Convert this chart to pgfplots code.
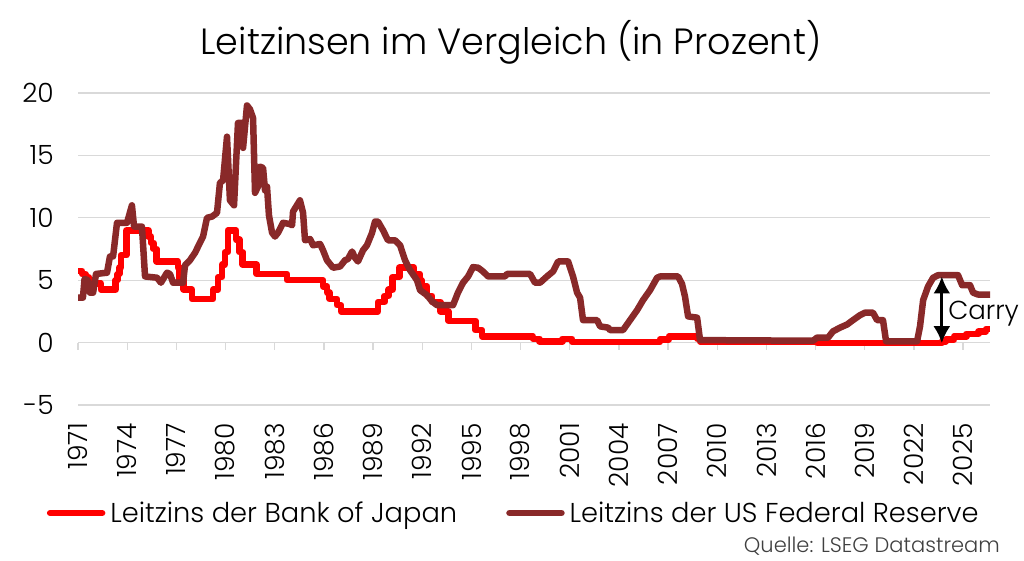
\documentclass[border=0pt]{standalone}
\usepackage{pgfplots}
\pgfplotsset{compat=1.18}
\usepackage{fontspec}
\setmainfont{Poppins Light}
\usetikzlibrary{arrows.meta}
\definecolor{bojred}{RGB}{255,0,0}
\definecolor{fedred}{RGB}{137,41,41}
\definecolor{gridgrey}{RGB}{217,217,217}
\definecolor{srcgrey}{RGB}{64,64,64}

\begin{document}
\begin{tikzpicture}
\useasboundingbox (0,0) rectangle (1024pt,560pt);
\begin{axis}[
  at={(78pt,155pt)}, anchor=south west,
  scale only axis, width=912pt, height=312pt,
  xmin=1971, xmax=2026.64, ymin=-5, ymax=20,
  xtick={1971,1974,...,2025},
  ytick={-5,0,5,10,15,20},
  axis line style={draw=none},
  major tick length=0pt,
  ymajorgrids, grid style={gridgrey, line width=1.3pt},
  /pgf/number format/assume math mode=true,
  /pgf/number format/1000 sep={},
  ticklabel style={font=\fontsize{26.5}{30}\selectfont, text=black},
  yticklabel style={anchor=east, inner sep=0pt},
  yticklabel shift=24pt,
  xticklabel style={rotate=90, anchor=east, inner sep=0pt},
  xticklabel shift=18pt,
  clip=false,
  legend columns=2,
  legend image code/.code={\draw[#1, line cap=round] (0pt,0pt) -- (52pt,0pt);},
  legend style={draw=none, fill=none, at={(axis description cs:-0.0341,-0.3462)}, anchor=west,
    inner sep=0pt, outer sep=0pt,
    nodes={inner sep=0pt, font=\fontsize{27.3}{32}\selectfont},
    /tikz/every odd column/.append style={column sep=5pt},
    /tikz/every even column/.append style={column sep=49pt}},
]
\pgfplotsinvokeforeach{1971,1974,...,2025}{\draw[gridgrey, line width=1.3pt] (axis cs:#1,0) -- ++(0pt,-7pt);}

% Bank of Japan
\addplot[const plot, bojred, line width=6.5pt, line join=round] coordinates {
(1971.00,5.75)(1971.25,5.5)(1971.45,5.25)(1971.65,4.75)(1972.40,4.25)(1973.30,5.0)(1973.42,5.5)
(1973.52,6.0)(1973.62,7.0)(1973.95,9.0)(1975.30,8.5)(1975.45,8.0)(1975.60,7.5)(1975.80,6.5)
(1977.10,6.0)(1977.20,5.0)(1977.45,4.25)(1977.95,3.5)(1979.25,4.25)(1979.55,5.25)(1979.80,6.25)
(1979.97,7.25)(1980.15,9.0)(1980.65,8.25)(1980.85,7.25)(1981.05,6.25)(1981.90,5.5)(1983.75,5.0)
(1985.95,4.5)(1986.20,4.0)(1986.35,3.5)(1986.80,3.0)(1987.05,2.5)(1989.30,3.25)(1989.70,3.75)
(1989.95,4.25)(1990.20,5.25)(1990.60,6.0)(1991.50,5.5)(1991.85,5.0)(1991.95,4.5)(1992.30,3.75)
(1992.60,3.25)(1993.10,2.5)(1993.60,1.75)(1995.25,1.0)(1995.65,0.5)(1998.75,0.3)(1999.15,0.1)
(2000.55,0.3)(2001.15,0.05)(2006.50,0.25)(2007.05,0.5)(2008.80,0.3)(2008.95,0.1)(2016.10,-0.05)
(2023.70,0.1)(2023.95,0.25)(2024.45,0.5)(2025.20,0.7)(2025.95,0.9)(2026.40,1.1)(2026.64,1.1)
};
\addlegendentry{Leitzins der Bank of Japan}

% US Federal Reserve
\addplot[sharp plot, fedred, line width=6.5pt, line join=round] coordinates {
(1971.00,3.6)(1971.30,3.6)(1971.40,5.1)(1971.60,5.0)(1971.73,4.0)(1971.92,4.0)(1972.10,5.5)
(1972.77,5.6)(1972.95,6.9)(1973.14,6.9)(1973.38,9.6)(1973.99,9.6)(1974.29,11.0)(1974.42,9.3)
(1974.90,9.3)(1975.09,5.3)(1975.82,5.2)(1976.06,4.8)(1976.43,5.6)(1976.61,5.5)(1976.80,4.8)
(1977.41,4.8)(1977.53,6.2)(1977.83,6.6)(1978.14,7.2)(1978.44,8.0)(1978.63,8.5)(1978.87,10.0)
(1979.18,10.1)(1979.48,10.4)(1979.66,12.8)(1979.85,13.0)(1980.09,16.5)(1980.27,11.4)(1980.52,11.0)
(1980.76,17.6)(1981.01,17.6)(1981.07,15.6)(1981.31,19.0)(1981.49,18.7)(1981.68,18.0)(1981.80,12.0)
(1981.98,12.5)(1982.10,14.1)(1982.29,14.0)(1982.41,12.2)(1982.53,12.5)(1982.65,10.2)(1982.84,8.8)
(1983.02,8.5)(1983.20,8.8)(1983.51,9.6)(1983.93,9.5)(1984.06,9.4)(1984.12,10.5)(1984.54,11.4)
(1984.73,10.4)(1984.85,8.2)(1985.16,8.3)(1985.34,7.8)(1985.77,7.9)(1985.95,7.4)(1986.19,6.6)
(1986.56,6.0)(1986.99,6.1)(1987.29,6.6)(1987.47,6.7)(1987.72,7.3)(1987.90,6.8)(1988.08,6.5)
(1988.39,7.4)(1988.63,7.8)(1988.94,8.8)(1989.12,9.7)(1989.30,9.7)(1989.61,9.0)(1989.91,8.2)
(1990.34,8.2)(1990.65,7.8)(1990.95,6.6)(1991.26,5.8)(1991.68,5.0)(1991.87,4.2)(1992.29,3.8)
(1992.60,3.3)(1992.90,3.0)(1993.88,3.0)(1994.18,4.0)(1994.49,4.8)(1994.80,5.3)(1995.10,6.05)
(1995.41,6.0)(1995.71,5.7)(1996.02,5.3)(1997.05,5.3)(1997.17,5.5)(1998.58,5.5)(1998.88,4.8)
(1999.19,4.8)(1999.61,5.3)(1999.98,5.7)(2000.29,6.5)(2000.90,6.5)(2001.20,5.3)(2001.45,4.0)
(2001.63,3.6)(2001.81,1.8)(2002.67,1.8)(2002.85,1.3)(2003.34,1.2)(2003.46,1.0)(2004.25,1.0)
(2004.68,1.8)(2005.11,2.6)(2005.47,3.4)(2005.90,4.2)(2006.33,5.2)(2006.51,5.3)(2007.61,5.3)
(2007.85,4.7)(2008.03,3.7)(2008.22,2.1)(2008.77,2.0)(2008.95,0.2)(2015.84,0.15)(2016.09,0.4)
(2016.76,0.4)(2017.06,0.9)(2017.49,1.2)(2017.92,1.45)(2018.28,1.8)(2018.71,2.2)(2019.02,2.4)
(2019.50,2.4)(2019.75,1.8)(2020.11,1.8)(2020.30,0.1)(2022.19,0.1)(2022.37,1.3)(2022.56,3.4)
(2022.86,4.5)(2023.17,5.2)(2023.47,5.4)(2024.69,5.4)(2024.94,4.6)(2025.42,4.6)(2025.61,4.0)
(2025.91,3.85)(2026.64,3.85)
};
\addlegendentry{Leitzins der US Federal Reserve}

\draw[black, line width=3pt, {Latex[length=17pt,width=17pt]}-{Latex[length=17pt,width=17pt]}]
  (axis cs:2023.70,5.3) -- (axis cs:2023.70,-0.05);
\node[anchor=base west, font=\fontsize{26}{30}\selectfont, inner sep=0pt] at (axis cs:2024.08,1.84) {Carry};
\end{axis}
\node[anchor=base, font=\fontsize{36.5}{44}\selectfont, inner sep=0pt] at (511pt,505pt) {Leitzinsen im Vergleich (in Prozent)};
\node[anchor=base east, font=\fontsize{21}{25}\selectfont, text=srcgrey, inner sep=0pt] at (1000pt,8pt) {Quelle: LSEG Datastream};
\end{tikzpicture}
\end{document}
